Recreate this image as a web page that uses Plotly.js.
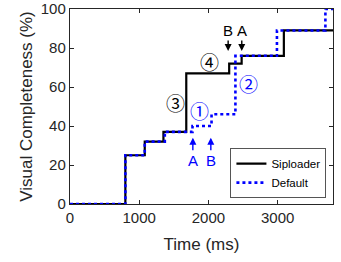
<!DOCTYPE html>
<html>
<head>
<meta charset="utf-8">
<script src="https://cdn.plot.ly/plotly-3.0.1.min.js"></script>
<style>html,body{margin:0;padding:0;background:#fff;}#chart{width:341px;height:262px;}</style>
</head>
<body>
<div id="chart"></div>
<script>
// Data
const siploaderTime = [0, 800, 1080, 1350, 1680, 2300, 2480, 3090, 3800];
const siploaderVC   = [0, 25, 32, 37, 67, 72, 76, 89, 89];
const defaultTime   = [0, 800, 1080, 1370, 1770, 2045, 2390, 2990, 3690, 3800];
const defaultVC     = [0, 25, 32, 37, 40, 46, 76, 89, 100, 100];
const xTicks = [0, 1000, 2000, 3000];
const yTicks = [0, 20, 40, 60, 80, 100];
// markers: [label, x, y]
const circleLabels = [['③', 1525, 52, 'black'], ['①', 1866, 48, 'blue'], ['④', 2020, 73, 'black'], ['②', 2583, 62, 'blue']];
const downArrows = [['B', 2285, 78.5], ['A', 2482, 78.5]];
const upArrows = [['A', 1775, 34], ['B', 2035, 34]];

const font = 'Liberation Sans, Arial, Helvetica, sans-serif';
const axisColor = '#262626';

const traces = [
  {x: siploaderTime, y: siploaderVC, name: 'Siploader', mode: 'lines', line: {shape: 'hv', color: '#000000', width: 2.2}},
  {x: defaultTime, y: defaultVC, name: 'Default', mode: 'lines', line: {shape: 'hv', color: '#0000ff', width: 2.6, dash: 'dot'}}
];

const annotations = [];
circleLabels.forEach(([t, x, y, c]) => annotations.push({
  x: x, y: y, xref: 'x', yref: 'y', text: t, showarrow: false,
  font: {family: 'Noto Sans CJK JP, DejaVu Serif, serif', size: 19, color: c}
}));
downArrows.forEach(([t, x, y]) => annotations.push({
  x: x, y: y, xref: 'x', yref: 'y', ax: x, ay: 89, axref: 'x', ayref: 'y',
  text: t, showarrow: true, arrowhead: 2, arrowsize: 1, arrowwidth: 1.4, arrowcolor: '#000',
  font: {family: font, size: 15, color: '#000'}
}));
upArrows.forEach(([t, x, y]) => annotations.push({
  x: x, y: y, xref: 'x', yref: 'y', ax: x, ay: 22.5, axref: 'x', ayref: 'y',
  text: t, showarrow: true, arrowhead: 2, arrowsize: 1, arrowwidth: 1.4, arrowcolor: '#0000ff',
  font: {family: font, size: 15, color: '#0000ff'}
}));

const layout = {
  width: 341, height: 262,
  margin: {l: 70, r: 8, t: 9, b: 58},
  paper_bgcolor: '#fff', plot_bgcolor: '#fff',
  showlegend: true,
  legend: {
    x: 0.975, y: 0.03, xanchor: 'right', yanchor: 'bottom',
    bgcolor: '#fff', bordercolor: '#555', borderwidth: 1,
    font: {family: font, size: 11.5, color: '#000'},
    tracegroupgap: 0, itemwidth: 30
  },
  xaxis: {
    range: [0, 3800], tickvals: xTicks, ticktext: xTicks.map(String),
    showgrid: false, zeroline: false, showline: true, mirror: 'ticks',
    linecolor: axisColor, linewidth: 1.2, ticks: 'inside', ticklen: 4, tickcolor: axisColor,
    tickfont: {family: font, size: 15, color: axisColor},
    title: {text: 'Time (ms)', font: {family: font, size: 17, color: axisColor}, standoff: 12}
  },
  yaxis: {
    range: [0, 100], tickvals: yTicks, ticktext: yTicks.map(String),
    showgrid: false, zeroline: false, showline: true, mirror: 'ticks',
    linecolor: axisColor, linewidth: 1.2, ticks: 'inside', ticklen: 4, tickcolor: axisColor,
    tickfont: {family: font, size: 15, color: axisColor},
    title: {text: 'Visual Completeness (%)', font: {family: font, size: 17, color: axisColor}, standoff: 3}
  },
  annotations: annotations
};

Plotly.newPlot('chart', traces, layout, {staticPlot: true, displayModeBar: false});
</script>
</body>
</html>
